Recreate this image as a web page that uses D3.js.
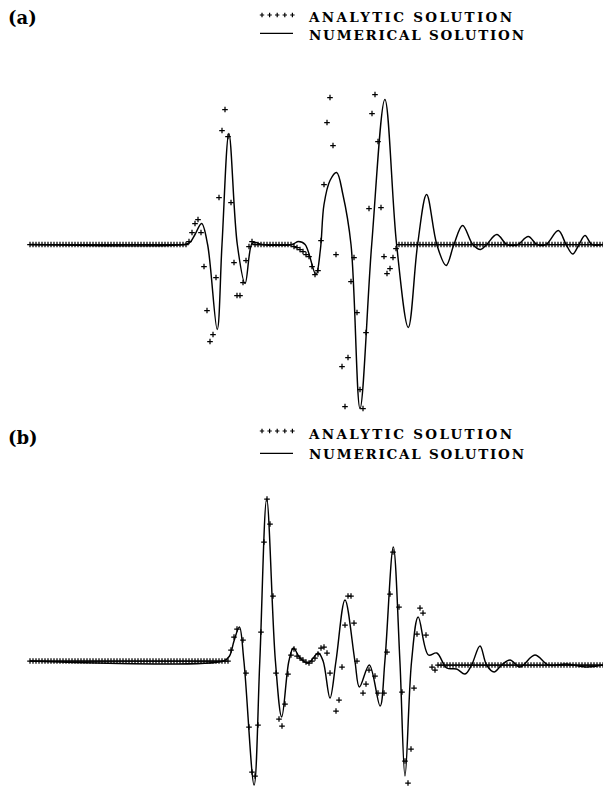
<!DOCTYPE html>
<html>
<head>
<meta charset="utf-8">
<script src="https://cdn.jsdelivr.net/npm/d3@7"></script>
<style>
  body { margin: 0; background: #fff; }
  svg { display: block; }
</style>
</head>
<body>
<svg width="603" height="788"></svg>
<script>

// samples are on a uniform grid, index 0..191 ; null = hidden under the line
var analyticA = [
  0,0,0,0,0,0,0,0,0,0,
  0,0,0,0,0,0,0,0,0,0,
  0,0,0,0,0,0,0,0,0,0,
  0,0,0,0,0,0,0,0,0,0,
  0,0,0,0,0,0,0,0,0,0,
  0,0,0,0.03,0.12,0.21,0.25,0.12,-0.22,-0.66,
  -0.97,-0.90,-0.33,0.47,1.14,1.35,1.08,0.42,-0.18,-0.51,
  -0.51,-0.38,-0.16,-0.02,0.03,0,0,0,0,0,
  0,0,0,0,0,0,0,0,-0.02,-0.03,
  -0.05,-0.07,-0.10,-0.12,-0.22,-0.30,-0.26,0.04,0.60,1.22,
  1.47,0.99,-0.10,null,-1.22,-1.62,-1.13,-0.37,-0.13,-0.68,
  -1.45,-1.64,-0.88,0.36,1.31,1.50,1.03,0.37,-0.12,-0.29,
  -0.24,-0.13,-0.04,0,0,0,0,0,0,0,
  0,0,0,0,0,0,0,0,0,0,
  0,0,0,0,0,0,0,0,0,0,
  0,0,0,0,0,0,0,0,0,0,
  0,0,0,0,0,0,0,0,0,0,
  0,0,0,0,0,0,0,0,0,0,
  0,0,0,0,0,0,0,0,0,0,
  0,0
];

var numericalA = [
  [0,0],[51.3,0],[53.3,0.02],[55,0.10],[57.2,0.21],[59.2,0],[62.4,-0.85],[64,0],
  [66.3,1.11],[69.1,0],[71.7,-0.39],[74,0.01],[75.3,0.02],[77.3,0],[87.3,0],
  [89.5,0.03],[91.7,0],[95.3,-0.30],[96.8,-0.05],[98,0.40],[100,0.64],[102.2,0.72],
  [104.3,0.5],[107,0],[110,-1.64],[113.9,0],[118.3,1.45],[122.2,0],[126.1,-0.83],
  [129.2,0],[132.2,0.50],[135.6,0],[138.7,-0.21],[141.3,0],[144.2,0.19],[147.6,0],
  [150.2,-0.05],[152.2,0],[155.6,0.10],[158.9,0],[161.1,-0.01],[162.7,0],[166.1,0.08],
  [169,0],[172,0],[176.1,0.14],[178.7,0],[180.9,-0.095],[183,0],[185,0.09],[187.3,0],[191,0]
];

var analyticB = [
  0,0,0,0,0,0,0,0,0,0,
  0,0,0,0,0,0,0,0,0,0,
  0,0,0,0,0,0,0,0,0,0,
  0,0,0,0,0,0,0,0,0,0,
  0,0,0,0,0,0,0,0,0,0,
  0,0,0,0,0,0,0,0,0,0,
  0,0,0,0,0,0,0,0.11,0.24,0.32,
  null,0.21,-0.12,-0.66,-1.11,-1.15,-0.64,0.29,1.19,1.62,
  1.37,0.65,-0.12,-0.58,-0.65,-0.43,-0.13,0.06,0.12,0.05,
  0.03,0.01,-0.01,-0.02,0,0.03,0.07,0.13,0.14,0.08,
  -0.12,null,-0.50,-0.39,-0.06,0.36,0.65,0.65,0.38,0,
  null,-0.32,-0.23,-0.09,null,-0.15,-0.32,null,-0.32,0.09,
  0.67,1.09,null,0.54,-0.31,-1.00,-1.22,-0.88,-0.27,0.27,
  0.53,0.48,0.26,null,-0.06,-0.09,-0.04,-0.04,-0.04,-0.04,
  -0.04,-0.04,-0.04,-0.04,-0.04,-0.04,-0.04,-0.04,-0.04,-0.04,
  -0.04,-0.04,-0.04,-0.04,-0.04,-0.04,-0.04,-0.04,-0.04,-0.04,
  -0.04,-0.04,-0.04,-0.04,-0.04,-0.04,-0.04,-0.04,-0.04,-0.04,
  -0.04,-0.04,-0.04,-0.04,-0.04,-0.04,-0.04,-0.04,-0.04,-0.04,
  -0.04,-0.04,-0.04,-0.04,-0.04,-0.04,-0.04,-0.04,-0.04,-0.04,
  -0.04,-0.04
];

var numericalB = [
  [0,0],[64.5,0],[66.5,0.05],[68,0.2],[69.8,0.34],[71.3,0],[74.7,-1.24],[76.6,0],
  [78.9,1.62],[81.8,0],[83.9,-0.56],[86.3,0],[87.8,0.13],[90,0.03],[92.7,-0.02],
  [96.1,0.08],[97.7,0],[100,-0.37],[102,0],[105,0.61],[108.3,0],[109.8,-0.26],
  [113.1,-0.04],[116.7,-0.45],[118.3,0],[121.1,1.14],[123.3,0],[125,-1.15],[127.2,0],
  [129.4,0.44],[132.8,0.06],[135.6,0.08],[138.9,-0.07],[142.2,-0.08],[145,-0.13],
  [147.2,-0.04],[150,0.15],[152.2,-0.04],[154.7,-0.11],[157.2,-0.04],[160,0.01],
  [163.3,-0.06],[168.3,0.06],[172.8,-0.04],[178.9,-0.03],[185.6,-0.06],[191,-0.04]
];

var panelLabels = ["(a)", "(b)"];
var legendLabels = ["ANALYTIC SOLUTION", "NUMERICAL SOLUTION"];
var legendWidths = [203, 215];

var svg = d3.select("svg");
svg.append("rect").attr("width", 603).attr("height", 788).attr("fill", "#fff");

var x = d3.scaleLinear().domain([0, 191]).range([30, 603]);

var panels = [
  { label: panelLabels[0], analytic: analyticA, numerical: numericalA,
    y: d3.scaleLinear().domain([-2, 2]).range([444.5, 44.5]),
    labelY: 24, textY: [22, 39.5], markY: [15, 33.3] },
  { label: panelLabels[1], analytic: analyticB, numerical: numericalB,
    y: d3.scaleLinear().domain([-2, 2]).range([861, 461]),
    labelY: 444, textY: [438.5, 458.5], markY: [431, 453.3] }
];

function plus(cx, cy, h) {
  return "M" + (cx - h) + "," + cy + "H" + (cx + h) + "M" + cx + "," + (cy - h) + "V" + (cy + h);
}

function draw(p) {
  var g = svg.append("g");

  var line = d3.line()
      .x(function(d) { return x(d[0]); })
      .y(function(d) { return p.y(d[1]); })
      .curve(d3.curveCatmullRom.alpha(0.5));

  g.append("path")
      .datum(p.numerical)
      .attr("d", line)
      .attr("fill", "none")
      .attr("stroke", "#000")
      .attr("stroke-width", 1.45);

  var pts = p.analytic
      .map(function(v, i) { return [i, v]; })
      .filter(function(d) { return d[1] !== null; });

  g.selectAll(".pt")
    .data(pts)
    .enter().append("path")
      .attr("class", "pt")
      .attr("d", function(d) { return plus(x(d[0]), p.y(d[1]), 2.8); })
      .attr("stroke", "#000")
      .attr("stroke-width", 1.25)
      .attr("fill", "none");

  // panel letter
  g.append("text")
      .attr("x", 8).attr("y", p.labelY)
      .attr("font-family", "DejaVu Serif").attr("font-weight", "bold")
      .attr("font-size", 18).attr("fill", "#000")
      .text(p.label);

  // legend
  var legend = g.append("g");
  legend.selectAll(".lp")
    .data(d3.range(5))
    .enter().append("path")
      .attr("class", "lp")
      .attr("d", function(i) { return plus(262 + i * 7.6, p.markY[0], 2.2); })
      .attr("stroke", "#000").attr("stroke-width", 1.2);

  legend.append("line")
      .attr("x1", 260).attr("x2", 293)
      .attr("y1", p.markY[1]).attr("y2", p.markY[1])
      .attr("stroke", "#000").attr("stroke-width", 1.2);

  legend.selectAll("text")
    .data(legendLabels)
    .enter().append("text")
      .attr("x", 309)
      .attr("y", function(d, i) { return p.textY[i]; })
      .attr("textLength", function(d, i) { return legendWidths[i]; })
      .attr("lengthAdjust", "spacing")
      .attr("font-family", "DejaVu Serif").attr("font-weight", "bold")
      .attr("font-size", 13.5).attr("fill", "#000")
      .text(function(d) { return d; });
}

panels.forEach(draw);

</script>
</body>
</html>
